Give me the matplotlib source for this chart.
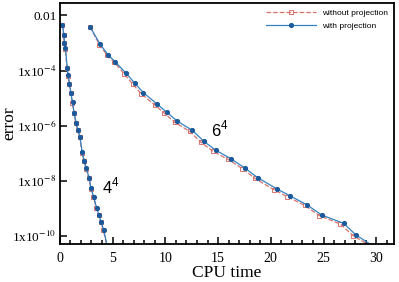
import numpy as np
import matplotlib.pyplot as plt
from matplotlib.ticker import FixedLocator, MultipleLocator

plt.rcParams['mathtext.fontset'] = 'stix'

# 4^4 grid: CPU time and log10(error)
t4_with = [0.25, 0.38, 0.44, 0.53, 0.70, 0.79, 0.91, 1.05, 1.20, 1.36, 1.55, 1.71, 1.90,
           2.12, 2.31, 2.50, 2.79, 2.95, 3.20, 3.49, 3.71, 3.90, 4.15, 4.60]
e4_with = [-2.34, -2.70, -3.00, -3.19, -3.89, -4.18, -4.48, -4.82, -5.16, -5.55, -5.91, -6.16, -6.40,
           -6.97, -7.27, -7.55, -7.91, -8.28, -8.58, -9.00, -9.25, -9.49, -9.79, -10.55]
t4_without = [0.25, 0.36, 0.42, 0.51, 0.68, 0.77, 0.89, 1.03, 1.18, 1.34, 1.53, 1.69, 1.88,
              2.10, 2.29, 2.48, 2.77, 2.93, 3.18, 3.47, 3.69, 3.88, 4.13, 4.58]
e4_without = [-2.34, -2.71, -3.01, -3.20, -3.90, -4.19, -4.49, -4.83, -5.17, -5.56, -5.92, -6.17, -6.41,
              -6.98, -7.28, -7.56, -7.92, -8.29, -8.59, -9.01, -9.26, -9.50, -9.80, -10.56]

# 6^4 grid
t6_with = [2.86, 3.81, 4.58, 5.24, 6.24, 7.08, 7.91, 9.22, 10.12, 11.14, 12.55, 13.65, 14.76,
           16.24, 17.53, 18.74, 20.58, 21.81, 23.43, 24.83, 26.90, 28.06, 30.00]
e6_with = [-2.41, -3.04, -3.43, -3.68, -4.08, -4.45, -4.80, -5.22, -5.51, -5.84, -6.17, -6.57, -6.89,
           -7.21, -7.54, -7.89, -8.30, -8.55, -8.88, -9.25, -9.55, -9.97, -10.45]
t6_without = [2.86, 3.75, 4.50, 5.15, 6.10, 6.90, 7.70, 9.00, 9.90, 10.90, 12.30, 13.40, 14.50,
              15.95, 17.30, 18.50, 20.30, 21.55, 23.20, 24.60, 26.60, 27.80, 29.80]
e6_without = [-2.41, -3.06, -3.45, -3.70, -4.11, -4.49, -4.84, -5.25, -5.55, -5.88, -6.21, -6.61, -6.93,
              -7.23, -7.56, -7.92, -8.33, -8.58, -8.90, -9.27, -9.58, -10.00, -10.45]

yticks = [1e-2, 1e-4, 1e-6, 1e-8, 1e-10]
yticklabels = ['0.01', r'1x10$^{-4}$', r'1x10$^{-6}$', r'1x10$^{-8}$', r'1x10$^{-10}$']

red = '#d9716b'
blue = '#3282c2'
blue_m = '#1a5a9c'

fig = plt.figure(figsize=(3.99, 2.82), dpi=100)
ax = fig.add_axes([0.150, 0.135, 0.838, 0.853])

kw_red = dict(color=red, ls='--', lw=0.9, marker='s', ms=3.2, mfc='none', mec=red, mew=0.7)
kw_blue = dict(color=blue, ls='-', lw=0.9, marker='o', ms=2.7, mfc=blue_m, mec=blue_m)

ax.plot(t4_without, 10**np.array(e4_without), **kw_red)
ax.plot(t4_with, 10**np.array(e4_with), **kw_blue)
ax.plot(t6_without, 10**np.array(e6_without), label='without projection', **kw_red)
ax.plot(t6_with, 10**np.array(e6_with), label='with projection', **kw_blue)

ax.set_yscale('log')
ax.set_xlim(0, 31.7)
ax.set_ylim(10**-10.3, 10**-1.56)
ax.yaxis.set_major_locator(FixedLocator(yticks))
ax.yaxis.set_minor_locator(FixedLocator([]))
ax.set_yticklabels(yticklabels, family='Liberation Serif', fontsize=9.5)
ax.xaxis.set_major_locator(MultipleLocator(5))
ax.xaxis.set_minor_locator(MultipleLocator(1))
for lab in ax.get_xticklabels():
    lab.set_family('Liberation Serif')
    lab.set_fontsize(10)

ax.tick_params(which='both', direction='in', width=1.1)
ax.tick_params(which='major', length=5)
ax.tick_params(which='minor', length=3)
ax.tick_params(axis='x', pad=6)
ax.tick_params(axis='y', pad=2.5)
for s in ax.spines.values():
    s.set_linewidth(1.3)

ax.set_xlabel('CPU time', family='Liberation Serif', fontsize=12.5, labelpad=0)
ax.set_ylabel('error', family='Liberation Serif', fontsize=12.5)
ax.yaxis.set_label_coords(-0.128, 0.5)

ax.text(14.3, 10**-6.41, '6$^\\mathregular{4}$', family='Liberation Sans', fontsize=12)
ax.text(4.0, 10**-8.45, '4$^\\mathregular{4}$', family='Liberation Sans', fontsize=12)

ax.legend(loc='upper right', frameon=False, prop={'family': 'Liberation Sans', 'size': 6},
          handlelength=6, labelspacing=0.6, borderaxespad=0.3, numpoints=1)

fig.savefig('out.png', dpi=100)
